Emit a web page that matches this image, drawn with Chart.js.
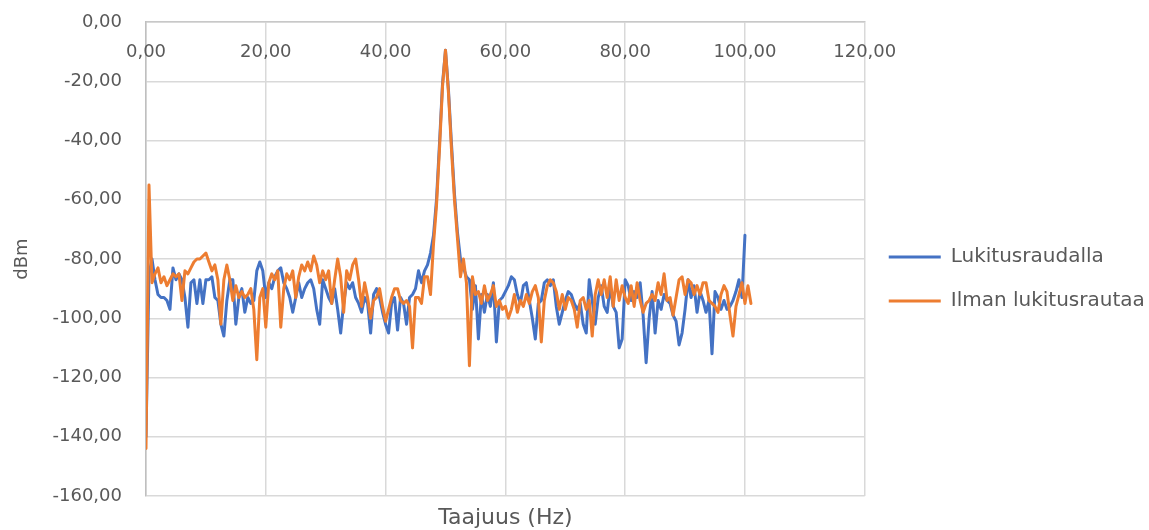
<!DOCTYPE html>
<html>
<head>
<meta charset="utf-8">
<script src="https://cdn.jsdelivr.net/npm/chart.js@4.4.1/dist/chart.umd.min.js"></script>
<style>
html,body{margin:0;padding:0;background:#ffffff;}
#wrap{width:1149px;height:530px;}
</style>
</head>
<body>
<div id="wrap"><canvas id="c" width="1149" height="530"></canvas></div>
<script>
// Frequency bin spacing (Hz)
const freqStep = 0.5;

// Series: Lukitusraudalla (dBm), bins 0 .. 100 Hz
const lukitusraudalla = [
-140,-85,-80,-87,-92,-93,-93,-94,-97,-83,
-87,-85,-87,-93,-103,-88,-87,-95,-87,-95,
-87,-87,-86,-93,-94,-102,-106,-94,-87,-87,
-102,-93,-90,-98,-93,-95,-94,-84,-81,-84,
-93,-88,-90,-86,-84,-83,-88,-90,-93,-98,
-93,-88,-93,-90,-88,-87,-90,-97,-102,-87,
-90,-93,-95,-90,-97,-105,-95,-88,-90,-88,
-93,-95,-98,-93,-95,-105,-92,-90,-93,-98,
-102,-105,-95,-93,-104,-93,-95,-102,-93,-92,
-90,-84,-88,-84,-82,-78,-72,-60,-41,-21,
-9.5,-23,-41,-58,-71,-80,-83,-86,-87,-97,
-89,-107,-92,-98,-92,-96,-88,-108,-94,-93,
-91,-89,-86,-87,-92,-95,-89,-88,-94,-100,
-107,-95,-94,-88,-87,-89,-87,-96,-102,-98,
-94,-91,-92,-95,-97,-95,-102,-105,-87,-94,
-102,-93,-89,-96,-98,-89,-96,-98,-110,-107,
-87,-89,-94,-91,-93,-88,-99,-115,-100,-91,
-105,-94,-97,-92,-94,-95,-99,-101,-109,-105,
-97,-87,-93,-89,-98,-91,-94,-98,-94,-112,
-91,-93,-97,-94,-97,-96,-94,-91,-87,-93,
-72
];

// Series: Ilman lukitusrautaa (dBm), bins 0 .. 101 Hz
const ilmanLukitusrautaa = [
-144,-55,-88,-85,-83,-88,-86,-89,-87,-85,
-86,-85,-94,-84,-85,-83,-81,-80,-80,-79,
-78,-81,-84,-82,-87,-102,-87,-82,-87,-94,
-89,-93,-91,-93,-92,-90,-97,-114,-93,-90,
-103,-88,-85,-87,-84,-103,-90,-85,-87,-84,
-93,-86,-82,-84,-81,-84,-79,-82,-88,-84,
-87,-84,-95,-87,-80,-86,-98,-84,-87,-82,
-80,-87,-96,-88,-93,-100,-94,-93,-90,-96,
-101,-97,-93,-90,-90,-94,-95,-94,-96,-110,
-93,-93,-95,-86,-86,-92,-75,-62,-43,-22,
-9.5,-24,-43,-60,-73,-86,-80,-88,-116,-86,
-92,-91,-95,-89,-94,-92,-89,-96,-94,-97,
-96,-100,-97,-92,-98,-94,-96,-92,-95,-91,
-89,-93,-108,-94,-89,-87,-88,-91,-97,-92,
-97,-93,-94,-97,-103,-94,-93,-97,-94,-106,
-92,-87,-92,-87,-93,-86,-96,-87,-94,-89,
-93,-95,-89,-96,-88,-94,-98,-95,-94,-92,
-94,-88,-92,-85,-94,-93,-99,-93,-87,-86,
-92,-87,-88,-92,-89,-92,-88,-88,-94,-95,
-96,-98,-92,-89,-91,-99,-106,-96,-92,-88,
-95,-89,-95
];

// Axis ranges / tick steps
const xRange = [0, 120];
const xTickStep = 20;
const yRange = [-160, 0];
const yTickStep = 20;

const seriesNames = ['Lukitusraudalla', 'Ilman lukitusrautaa'];
const xTitleText = 'Taajuus (Hz)';
const yTitleText = 'dBm';

function toPoints(vals) {
  return vals.map((v, i) => ({ x: i * freqStep, y: v }));
}
const fmt = v => Number(v).toFixed(2).replace('.', ',');

const FONT = 'DejaVu Sans';
const TXT = '#595959';
const GRID = '#d9d9d9';
const CLEAR = 'rgba(0,0,0,0)';

// Draws the x scale's own tick labels just inside the top edge of the plot
// (the x axis crosses the value axis at 0, which is the top of the plot).
const innerTopTickLabels = {
  id: 'innerTopTickLabels',
  afterDraw(chart) {
    const sx = chart.scales.x;
    const ctx = chart.ctx;
    const yPix = chart.chartArea.top + 30;
    ctx.save();
    ctx.font = '18px "' + FONT + '"';
    ctx.fillStyle = TXT;
    ctx.textAlign = 'center';
    ctx.textBaseline = 'middle';
    sx.ticks.forEach(t => {
      ctx.fillText(fmt(t.value), sx.getPixelForValue(t.value), yPix);
    });
    ctx.restore();
  }
};

new Chart(document.getElementById('c'), {
  type: 'line',
  data: {
    datasets: [
      {
        label: seriesNames[0],
        data: toPoints(lukitusraudalla),
        borderColor: '#4472C4',
        backgroundColor: '#4472C4',
        borderWidth: 3,
        pointRadius: 0,
        tension: 0,
        borderJoinStyle: 'round',
        borderCapStyle: 'round',
        xAxisID: 'x',
        yAxisID: 'y',
        order: 1
      },
      {
        label: seriesNames[1],
        data: toPoints(ilmanLukitusrautaa),
        borderColor: '#ED7D31',
        backgroundColor: '#ED7D31',
        borderWidth: 3,
        pointRadius: 0,
        tension: 0,
        borderJoinStyle: 'round',
        borderCapStyle: 'round',
        xAxisID: 'x',
        yAxisID: 'y',
        order: 0
      }
    ]
  },
  plugins: [innerTopTickLabels],
  options: {
    responsive: false,
    animation: false,
    layout: { padding: { left: 0, right: -4, top: 22, bottom: -6 } },
    scales: {
      x: {
        type: 'linear',
        min: xRange[0],
        max: xRange[1],
        position: 'top',
        ticks: {
          stepSize: xTickStep,
          display: false,
          autoSkip: false
        },
        grid: { color: GRID, lineWidth: 1.5, drawTicks: false },
        border: { color: '#c8c8c8', width: 1.5 },
        afterFit: s => { s.height = 0; }
      },
      xTitle: {
        type: 'linear',
        axis: 'x',
        position: 'bottom',
        min: xRange[0],
        max: xRange[1],
        ticks: { display: false },
        grid: { display: false, drawTicks: false },
        border: { display: false },
        title: {
          display: true,
          text: xTitleText,
          color: TXT,
          font: { family: FONT, size: 22 },
          padding: { top: 0, bottom: 5 }
        },
        afterFit: s => { s.height = 40; }
      },
      y: {
        type: 'linear',
        min: yRange[0],
        max: yRange[1],
        position: 'left',
        ticks: {
          stepSize: yTickStep,
          callback: fmt,
          color: TXT,
          font: { family: FONT, size: 18 },
          padding: 0
        },
        grid: { color: GRID, lineWidth: 1.5, drawTicks: true, tickLength: 24, tickColor: CLEAR },
        border: { color: '#bfbfbf', width: 1.5 },
        title: {
          display: true,
          text: yTitleText,
          color: TXT,
          font: { family: FONT, size: 18 },
          padding: { top: 12, bottom: 0 }
        },
        afterFit: s => { s.width = 146; }
      }
    },
    plugins: {
      legend: {
        position: 'right',
        align: 'center',
        labels: {
          usePointStyle: true,
          pointStyle: 'line',
          pointStyleWidth: 52,
          boxHeight: 20,
          color: TXT,
          font: { family: FONT, size: 20 },
          padding: 24,
          sort: (a, b) => a.datasetIndex - b.datasetIndex
        }
      },
      tooltip: { enabled: false }
    }
  }
});
</script>
</body>
</html>
